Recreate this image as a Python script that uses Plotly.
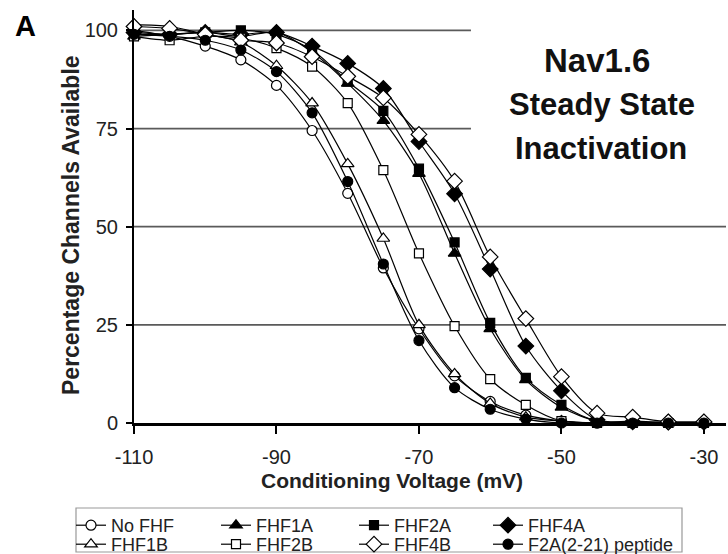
import plotly.graph_objects as go

voltage = [-110, -105, -100, -95, -90, -85, -80, -75, -70, -65, -60, -55, -50, -45, -40, -35, -30]

no_fhf   = [100, 98.5, 96, 92.5, 86, 74.5, 58.5, 39.5, 24, 12, 5.5, 2, 0.5, 0, 0, 0, 0]
fhf1a    = [98.5, 99, 99.5, 98.5, 99.5, 94.5, 86.5, 77, 63.5, 43.2, 24, 11, 4, 0.5, 0, 0, 0]
fhf2a    = [99, 99, 99.5, 100, 99, 95, 87, 79.5, 64.8, 46, 25.5, 11.5, 4.6, 0.5, 0, 0, 0]
fhf4a    = [99.5, 99, 99.5, 99, 99.5, 96, 91.6, 85.2, 71.7, 58.4, 39.2, 19.6, 8.2, 0.8, 0.3, 0.2, 0.2]
fhf1b    = [101.5, 101, 99, 97, 91, 81.5, 66, 47, 25, 12.5, 5, 1.5, 0.5, 0, 0.5, 0, 0]
fhf2b    = [98.5, 97.5, 98.5, 98, 95.5, 90.8, 81.5, 64.4, 43.2, 24.7, 11.2, 4.6, 0.5, 0, 0, 0, 0]
fhf4b    = [101, 100.5, 99, 97.5, 96.8, 93.3, 88.3, 82.8, 73.5, 61.6, 42.3, 26.6, 11.8, 2.5, 1.5, 0.3, 0.3]
f2a_pep  = [99, 98.5, 97.5, 95, 89.5, 79, 61.5, 40.5, 21, 9, 3.5, 1, 0, 0, 0, 0, 0]

names   = ["No FHF", "FHF1A", "FHF2A", "FHF4A", "FHF1B", "FHF2B", "FHF4B", "F2A(2-21) peptide"]
values  = [no_fhf, fhf1a, fhf2a, fhf4a, fhf1b, fhf2b, fhf4b, f2a_pep]
symbols = ["circle", "triangle-up", "square", "diamond", "triangle-up", "square", "diamond", "circle"]
filled  = [False, True, True, True, False, False, False, True]
sizes   = [10, 11, 9, 12, 11, 9, 12, 10]

x_ticks = [-110, -90, -70, -50, -30]
x_tick_text = ["-110", "-90", "-70", "-50", "-30"]
y_ticks = [0, 25, 50, 75, 100]
y_tick_text = ["0", "25", "50", "75", "100"]

FONT = "Liberation Sans, Arial, sans-serif"
W, H = 728, 554

# legend layout: 4 columns x 2 rows, one small legend per entry (pixel positions)
leg_col_left = [71, 216, 354, 488]
leg_row_top = [507, 526]

fig = go.Figure()
legend_layouts = {}
for i, (name, vals, sym, fill, sz) in enumerate(zip(names, values, symbols, filled, sizes)):
    lg_id = "legend" if i == 0 else "legend%d" % (i + 1)
    fig.add_trace(go.Scatter(
        x=voltage, y=vals, name=name, mode="lines+markers", legend=lg_id,
        line=dict(color="black", width=1.2, shape="spline", smoothing=0.8),
        marker=dict(symbol=sym, size=sz, color="black" if fill else "white",
                    line=dict(color="black", width=1.2)),
        cliponaxis=False,
    ))
    row, col = divmod(i, 4)
    legend_layouts[lg_id] = dict(
        orientation="h", xref="container", yref="container",
        x=leg_col_left[col] / W, y=1 - leg_row_top[row] / H,
        xanchor="left", yanchor="top", itemwidth=30,
        font=dict(size=18, color="#222", family=FONT),
        bgcolor="rgba(0,0,0,0)", borderwidth=0)

# gridlines (upper two are hidden behind the title box in the original)
grid_lines = [(100, -62.7), (75, -62.7), (50, -26.9), (25, -26.9)]
for gy, gx1 in grid_lines:
    fig.add_shape(type="line", xref="x", yref="y", x0=-110, x1=gx1, y0=gy, y1=gy,
                  line=dict(color="#5a5a5a", width=1.7), layer="below")

fig.update_layout(
    width=W, height=H,
    margin=dict(l=134, r=2, t=10, b=131),
    paper_bgcolor="white", plot_bgcolor="white",
    font=dict(family=FONT, color="#222", size=18),
    showlegend=True,
    xaxis=dict(range=[-110, -26.9], tickmode="array", tickvals=x_ticks, ticktext=x_tick_text,
               showgrid=False, zeroline=False, showline=True, linecolor="black", linewidth=2.5,
               ticks="outside", ticklen=8, tickwidth=1.5, tickcolor="black",
               tickfont=dict(size=20, color="#222"), ticklabelstandoff=6),
    yaxis=dict(range=[0, 105.2], tickmode="array", tickvals=y_ticks, ticktext=y_tick_text,
               showgrid=False, zeroline=False, showline=True, linecolor="black", linewidth=2,
               ticks="outside", ticklen=6, tickwidth=1.5, tickcolor="black",
               tickfont=dict(size=20, color="#222"), ticklabelstandoff=4),
    **legend_layouts,
)

def px_x(p):
    return (p - 134) / 592.0

def px_y(p):
    return (423 - p) / 413.0

# legend border box
fig.add_shape(type="rect", xref="paper", yref="paper",
              x0=px_x(76), x1=px_x(682), y0=px_y(508), y1=px_y(552),
              line=dict(color="#999", width=1.2), fillcolor="rgba(0,0,0,0)")

# y axis title
fig.add_annotation(xref="paper", yref="paper", x=px_x(71), y=px_y(225),
                   text="<b>Percentage Channels Available</b>", showarrow=False, textangle=-90,
                   font=dict(size=23, color="#222"), xanchor="center", yanchor="middle")

# x axis title
fig.add_annotation(xref="paper", yref="paper", x=px_x(392), y=px_y(481),
                   text="<b>Conditioning Voltage (mV)</b>", showarrow=False,
                   font=dict(size=21, color="#222"), xanchor="center", yanchor="middle")

# panel label
fig.add_annotation(xref="paper", yref="paper", x=px_x(25), y=px_y(26),
                   text="<b>A</b>", showarrow=False,
                   font=dict(size=29, color="black"), xanchor="center", yanchor="middle")

# chart title text
title_lines = [("Nav1.6", 597, 61, 33), ("Steady State", 602, 105, 31), ("Inactivation", 601, 148, 31)]
for txt, cx, cy, fs in title_lines:
    fig.add_annotation(xref="paper", yref="paper", x=px_x(cx), y=px_y(cy),
                       text="<b>" + txt + "</b>", showarrow=False,
                       font=dict(size=fs, color="#111"), xanchor="center", yanchor="middle")

fig.write_html("out.html")
